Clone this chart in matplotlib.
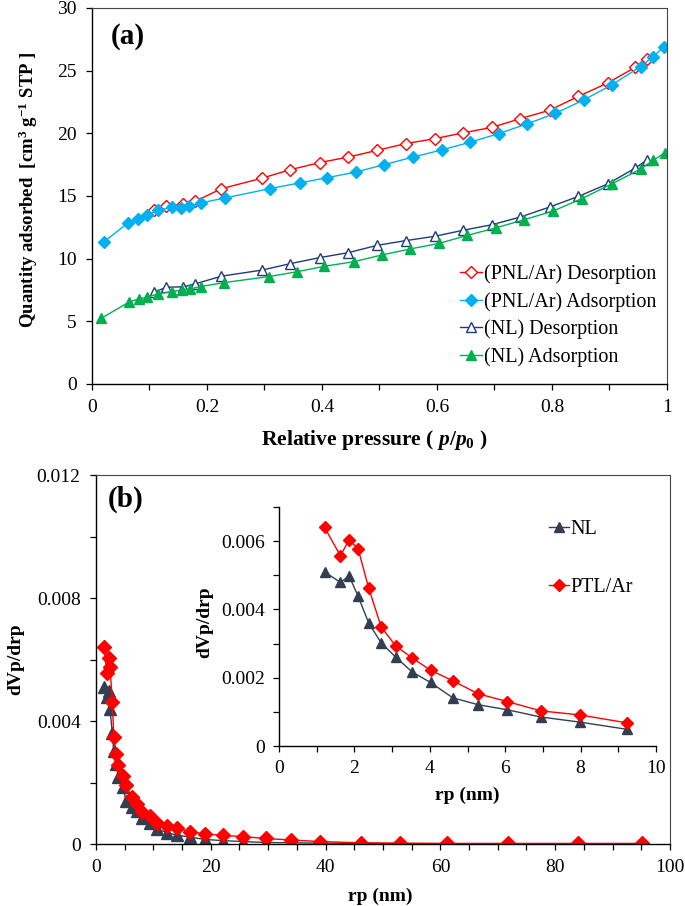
import matplotlib
matplotlib.use("Agg")
import matplotlib.pyplot as plt
from matplotlib.ticker import MultipleLocator, FuncFormatter

plt.rcParams["font.family"] = ["Liberation Serif", "DejaVu Serif"]
plt.rcParams["mathtext.fontset"] = "custom"
plt.rcParams["mathtext.rm"] = "Liberation Serif:bold"
plt.rcParams["mathtext.bf"] = "Liberation Serif:bold"
plt.rcParams["mathtext.it"] = "Liberation Serif:italic:bold"

# ---- panel (a): isotherms ----
pnl_ads_x = [0.021, 0.062, 0.080, 0.095, 0.115, 0.140, 0.155, 0.169, 0.189, 0.231,
             0.310, 0.361, 0.409, 0.459, 0.508, 0.559, 0.608, 0.657, 0.707, 0.756,
             0.806, 0.855, 0.904, 0.954, 0.975, 0.995]
pnl_ads_y = [11.35, 12.83, 13.18, 13.48, 13.85, 14.12, 14.05, 14.16, 14.44, 14.84,
             15.59, 16.04, 16.46, 16.91, 17.50, 18.11, 18.67, 19.28, 19.97, 20.74,
             21.60, 22.66, 23.86, 25.32, 26.09, 26.91]

pnl_des_x = [0.966, 0.945, 0.897, 0.846, 0.796, 0.745, 0.696, 0.645, 0.596, 0.546,
             0.496, 0.446, 0.396, 0.345, 0.295, 0.225, 0.180, 0.159, 0.129, 0.108]
pnl_des_y = [25.96, 25.27, 24.02, 22.95, 21.84, 21.17, 20.48, 20.03, 19.57, 19.18,
             18.64, 18.11, 17.66, 17.10, 16.41, 15.58, 14.58, 14.36, 14.18, 13.88]

nl_des_x = pnl_des_x
nl_des_y = [17.90, 17.23, 15.96, 14.97, 14.12, 13.32, 12.71, 12.26, 11.78, 11.44,
            11.06, 10.48, 10.08, 9.60, 9.08, 8.60, 7.99, 7.75, 7.72, 7.31]

nl_ads_x = [0.016, 0.064, 0.081, 0.095, 0.114, 0.139, 0.156, 0.170, 0.189, 0.230,
            0.308, 0.356, 0.404, 0.456, 0.504, 0.553, 0.604, 0.653, 0.702, 0.752,
            0.802, 0.852, 0.905, 0.955, 0.976, 0.996]
nl_ads_y = [5.24, 6.52, 6.78, 6.92, 7.18, 7.37, 7.50, 7.58, 7.77, 8.09,
            8.57, 8.95, 9.39, 9.76, 10.29, 10.77, 11.22, 11.86, 12.45, 13.11,
            13.80, 14.79, 15.98, 17.18, 17.85, 18.43]

# ---- panel (b): pore size distribution ----
rp_main = [1.4, 1.9, 2.2, 2.45, 2.85, 3.1, 3.5, 3.9, 4.75, 5.2,
           6.2, 7.1, 8.1, 9.4, 10.7, 12.3, 14.2, 16.4, 19.0, 22.1,
           25.7, 29.6, 34.0, 39.1, 46.1, 53.0, 61.1, 71.8, 83.9, 95.1]
ptl_main = [6.40, 5.57, 6.04, 5.77, 4.62, 3.49, 2.94, 2.58, 2.22, 1.91,
            1.53, 1.30, 1.03, 0.91, 0.68, 0.59, 0.51, 0.40, 0.33, 0.28,
            0.24, 0.18, 0.13, 0.08, 0.04, 0.03, 0.02, 0.02, 0.02, 0.02]
nl_main = [5.10, 4.79, 4.98, 4.38, 3.60, 3.02, 2.61, 2.17, 1.86, 1.41,
           1.21, 1.06, 0.85, 0.70, 0.49, 0.37, 0.29, 0.22, 0.15, 0.11,
           0.08, 0.05, 0.04, 0.03, 0.02, 0.01, 0.01, 0.005, 0.005, 0.003]

rp_inset = [1.21, 1.63, 1.86, 2.10, 2.38, 2.71, 3.09, 3.53, 4.02, 4.61,
            5.28, 6.06, 6.94, 7.98, 9.22]
ptl_inset = [6.40, 5.57, 6.04, 5.77, 4.62, 3.49, 2.94, 2.58, 2.22, 1.91,
             1.53, 1.30, 1.03, 0.91, 0.68]
nl_inset = [5.10, 4.79, 4.98, 4.38, 3.60, 3.02, 2.61, 2.17, 1.86, 1.41,
            1.21, 1.06, 0.85, 0.70, 0.49]

RED = "#FF0000"
CYAN = "#00B0F0"
NAVY = "#1F3A78"
GREEN = "#00B050"
SLATE = "#333F50"
TICK_FS = 14
LEG_FS = 14.5
LABEL_FS = 14


def fmt(v, _):
    return f"{v:g}"


def style_axes(ax, box=True, pad=7):
    for side in ("top", "right"):
        ax.spines[side].set_visible(box)
        ax.spines[side].set_color("#444444")
    for side in ("left", "bottom"):
        ax.spines[side].set_linewidth(1.0)
    ax.tick_params(which="both", direction="out", length=4, width=0.9,
                   labelsize=TICK_FS, top=False, right=False, pad=pad)
    ax.xaxis.set_major_formatter(FuncFormatter(fmt))
    ax.yaxis.set_major_formatter(FuncFormatter(fmt))


fig = plt.figure(figsize=(6.85, 9.06), dpi=100)

# panel (a)
ax1 = fig.add_axes([0.1343, 0.5762, 0.8394, 0.4150])
ax1.plot(pnl_des_x, pnl_des_y, color=RED, lw=1.0, marker="D", ms=6.5,
         mfc="white", mec=RED, mew=1.0, label="(PNL/Ar) Desorption")
ax1.plot(pnl_ads_x, pnl_ads_y, color=CYAN, lw=1.0, marker="D", ms=6.5,
         mfc=CYAN, mec=CYAN, label="(PNL/Ar) Adsorption")
ax1.plot(nl_des_x, nl_des_y, color=NAVY, lw=1.0, marker="^", ms=7.5,
         mfc="white", mec=NAVY, mew=1.0, label="(NL) Desorption")
ax1.plot(nl_ads_x, nl_ads_y, color=GREEN, lw=1.0, marker="^", ms=7.5,
         mfc=GREEN, mec=GREEN, label="(NL) Adsorption")
ax1.set_xlim(0, 1)
ax1.set_ylim(0, 30)
ax1.xaxis.set_major_locator(MultipleLocator(0.2))
ax1.xaxis.set_minor_locator(MultipleLocator(0.1))
ax1.yaxis.set_major_locator(MultipleLocator(5))
style_axes(ax1)
ax1.set_ylabel(r"Quantity adsorbed  [cm$^{\mathbf{3}}$ g$^{\mathbf{-1}}$ STP ]",
               fontsize=13.5, fontweight="bold")
ax1.yaxis.set_label_coords(-0.090, 0.517)
ax1.set_xlabel(r"Relative pressure ( $p/p_0$ )", fontsize=15.5, fontweight="bold")
ax1.xaxis.set_label_coords(0.49, -0.116)
ax1.text(0.063, 0.925, "(a)", transform=ax1.transAxes, fontsize=21,
         fontweight="bold", ha="center", va="center")
ax1.legend(loc="upper left", bbox_to_anchor=(0.640, 0.318), frameon=False,
           fontsize=LEG_FS, handlelength=1.1, handletextpad=0.1,
           labelspacing=0.39, borderpad=0, borderaxespad=0)

# panel (b)
ax2 = fig.add_axes([0.1401, 0.0684, 0.8380, 0.4073])
ax2.plot(rp_main, [v / 1000 for v in nl_main], color=SLATE, lw=1.0, marker="^",
         ms=8.5, mfc=SLATE, mec=SLATE)
ax2.plot(rp_main, [v / 1000 for v in ptl_main], color=RED, lw=1.0, marker="D",
         ms=7, mfc=RED, mec=RED)
ax2.set_xlim(0, 100)
ax2.set_ylim(0, 0.012)
ax2.xaxis.set_major_locator(MultipleLocator(20))
ax2.xaxis.set_minor_locator(MultipleLocator(5))
ax2.yaxis.set_major_locator(MultipleLocator(0.004))
ax2.yaxis.set_minor_locator(MultipleLocator(0.002))
style_axes(ax2)
ax2.set_xlabel("rp (nm)", fontsize=LABEL_FS, fontweight="bold")
ax2.xaxis.set_label_coords(0.495, -0.117)
ax2.set_ylabel("dVp/drp", fontsize=LABEL_FS, fontweight="bold")
ax2.yaxis.set_label_coords(-0.125, 0.50)
ax2.text(0.052, 0.935, "(b)", transform=ax2.transAxes, fontsize=21,
         fontweight="bold", ha="center", va="center")

# inset
ax3 = fig.add_axes([0.4073, 0.1766, 0.5504, 0.2638])
ax3.set_facecolor("white")
ax3.plot(rp_inset, [v / 1000 for v in nl_inset], color=SLATE, lw=1.0, marker="^",
         ms=7.5, mfc=SLATE, mec=SLATE, label="NL")
ax3.plot(rp_inset, [v / 1000 for v in ptl_inset], color=RED, lw=1.0, marker="D",
         ms=6.5, mfc=RED, mec=RED, label="PTL/Ar")
ax3.set_xlim(0, 10)
ax3.set_ylim(0, 0.007)
ax3.xaxis.set_major_locator(MultipleLocator(2))
ax3.xaxis.set_minor_locator(MultipleLocator(1))
ax3.yaxis.set_major_locator(MultipleLocator(0.002))
ax3.yaxis.set_minor_locator(MultipleLocator(0.001))
style_axes(ax3, box=False, pad=6)
ax3.set_xlabel("rp (nm)", fontsize=LABEL_FS, fontweight="bold")
ax3.xaxis.set_label_coords(0.499, -0.172)
ax3.set_ylabel("dVp/drp", fontsize=LABEL_FS, fontweight="bold")
ax3.yaxis.set_label_coords(-0.175, 0.52)
ax3.legend(loc="upper left", bbox_to_anchor=(0.715, 0.945), frameon=False,
           fontsize=LEG_FS, handlelength=1.0, handletextpad=0.1,
           labelspacing=1.93, borderpad=0, borderaxespad=0)

fig.savefig("out.png", dpi=100)
